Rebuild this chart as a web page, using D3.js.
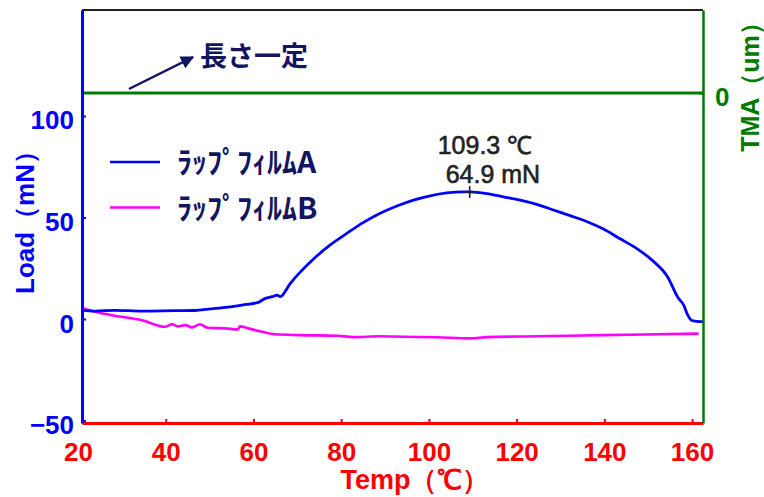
<!DOCTYPE html>
<html>
<head>
<meta charset="utf-8">
<script src="https://cdn.jsdelivr.net/npm/d3@7"></script>
<style>
  body { margin: 0; background: #fff; }
  svg { display: block; }
  .num { font-family: "Liberation Sans", Arial, sans-serif; font-weight: bold; }
  .jp { font-family: "Noto Sans CJK JP", sans-serif; font-weight: bold; }
</style>
</head>
<body>
<div id="chart"></div>
<script>
////////////////////////////////////////////////////////////////////////
//
// data
//
////////////////////////////////////////////////////////////////////////
var tempA = [20.9, 23.9, 28.4, 34.6, 42.1, 46.7, 49.7, 54.2, 57.4, 61.1, 62.7, 64.3,
             65.4, 66.1, 68.4, 70.6, 73.7, 77.5, 81.3, 85.1, 88.9, 92.7, 96.5, 100.3,
             104.1, 107.9, 109.3, 113.2, 117.0, 120.8, 124.6, 128.4, 132.2, 136.1,
             139.8, 143.7, 147.5, 151.2, 154.3, 156.9, 158.1, 159.0, 160.0, 161.9, 162.5];
var loadA = [4.4, 3.9, 4.3, 3.9, 4.1, 4.2, 4.9, 5.9, 6.9, 8.2, 10.2, 11.0,
             11.8, 11.0, 17.6, 23.0, 29.6, 36.5, 42.2, 47.6, 52.1, 55.7, 58.6, 60.7,
             62.1, 62.6, 62.6, 61.8, 60.2, 58.6, 56.5, 53.7, 50.9, 47.9,
             44.3, 39.4, 34.6, 28.4, 21.2, 10.2, 6.9, 2.0, -0.8, -1.3, -1.3];

var tempB = [20.9, 23.9, 28.4, 34.6, 39.8, 41.4, 42.8, 44.4, 46.0, 47.8, 49.6, 53.5,
             56.5, 56.9, 58.8, 62.0, 64.9, 70.6, 79.1, 82.7, 88.9, 94.1, 101.9, 109.4,
             113.3, 124.7, 139.8, 155.1, 161.5];
var loadB = [5.4, 3.6, 1.6, -0.6, -3.8, -2.6, -3.6, -3.0, -4.1, -2.6, -4.3, -4.6,
             -5.1, -3.6, -4.6, -6.3, -7.5, -7.9, -8.2, -8.9, -8.5, -8.7, -9.0, -9.5,
             -8.9, -8.5, -7.9, -7.4, -7.2];

var tempTMA = [20.9, 162.5];
var valTMA = [0, 0];

var tempTicks = [20, 40, 60, 80, 100, 120, 140, 160];
var loadTicks = [-50, 0, 50, 100];
var tmaTicks = [0];

var legendNames = ["ﾗｯﾌﾟﾌｨﾙﾑA", "ﾗｯﾌﾟﾌｨﾙﾑB"];
var peakTemp = 109.3, peakLoad = 62.6;
var peakLabels = ["109.3 ℃", "64.9 mN"];


////////////////////////////////////////////////////////////////////////
//
// build the chart
//
////////////////////////////////////////////////////////////////////////
function drawChart()
    {
    var W = 764, H = 497;
    var m = {top: 10, right: 61, bottom: 74, left: 82};
    var w = W - m.left - m.right;
    var h = H - m.top - m.bottom;

    var blue = "#0000ff", pink = "#ff00ff", green = "#007a00", red = "#ff0000", navy = "#14145f";

    var svg = d3.select("#chart").append("svg").attr("width", W).attr("height", H);
    var g = svg.append("g").attr("transform", "translate(" + m.left + "," + m.top + ")");

    var x = d3.scaleLinear().domain([20.9, 162.5]).range([0, w]);
    var y = d3.scaleLinear().domain([-51.2, 152.2]).range([h, 0]);
    var yT = d3.scaleLinear().domain([-330, 83]).range([h, 0]);

    var lineLoad = d3.line().x(function(d) {return x(d[0]);}).y(function(d) {return y(d[1]);}).curve(d3.curveMonotoneX);
    var lineTMA = d3.line().x(function(d) {return x(d[0]);}).y(function(d) {return yT(d[1]);});

    //curves
    g.append("path").datum(d3.zip(tempTMA, valTMA)).attr("d", lineTMA)
        .attr("fill", "none").attr("stroke", green).attr("stroke-width", 3);
    g.append("path").datum(d3.zip(tempB, loadB)).attr("d", lineLoad)
        .attr("fill", "none").attr("stroke", pink).attr("stroke-width", 2.6);
    g.append("path").datum(d3.zip(tempA, loadA)).attr("d", lineLoad)
        .attr("fill", "none").attr("stroke", blue).attr("stroke-width", 2.8);

    //top frame
    g.append("line").attr("x1", 0).attr("x2", w).attr("y1", 0).attr("y2", 0)
        .attr("stroke", "#222").attr("stroke-width", 2);

    //bottom axis
    var xAxis = g.append("g").attr("class", "num").attr("transform", "translate(0," + h + ")")
        .call(d3.axisBottom(x).tickValues(tempTicks).tickSizeInner(-4).tickSizeOuter(0).tickPadding(20));
    xAxis.select(".domain").attr("stroke", red).attr("stroke-width", 3);
    xAxis.selectAll(".tick line").attr("stroke", red).attr("stroke-width", 2);
    xAxis.selectAll(".tick").filter(function(d) {return d === 20;}).select("line").remove();
    xAxis.selectAll("text").attr("fill", red).attr("font-size", 26);

    //left axis
    var yAxis = g.append("g").attr("class", "num")
        .call(d3.axisLeft(y).tickValues(loadTicks).tickSizeInner(-4).tickSizeOuter(0).tickPadding(8));
    yAxis.select(".domain").attr("stroke", blue).attr("stroke-width", 3);
    yAxis.selectAll(".tick line").attr("stroke", blue).attr("stroke-width", 2);
    yAxis.selectAll("text").attr("fill", blue).attr("font-size", 26).attr("dy", "0.5em");

    //right axis
    var tAxis = g.append("g").attr("class", "num").attr("transform", "translate(" + w + ",0)")
        .call(d3.axisRight(yT).tickValues(tmaTicks).tickSizeInner(-4).tickSizeOuter(0).tickPadding(12));
    tAxis.select(".domain").attr("stroke", green).attr("stroke-width", 2.5);
    tAxis.selectAll(".tick line").attr("stroke", green).attr("stroke-width", 2);
    tAxis.selectAll("text").attr("fill", green).attr("font-size", 26).attr("dy", "0.48em");

    //axis titles
    svg.append("text").attr("class", "num").attr("transform", "translate(34,216) rotate(-90)")
        .attr("text-anchor", "middle").attr("fill", blue).attr("font-size", 26).text("Load（mN）");
    svg.append("text").attr("class", "num").attr("x", 415).attr("y", 489)
        .attr("text-anchor", "middle").attr("fill", red).attr("font-size", 27).text("Temp（℃）");
    svg.append("text").attr("class", "num").attr("transform", "translate(759,81) rotate(-90)")
        .attr("text-anchor", "middle").attr("fill", green).attr("font-size", 25).text("TMA（um）");

    //legend
    var legend = g.append("g").attr("transform", "translate(28,152)");
    [blue, pink].forEach(function(c, i)
        {
        legend.append("line").attr("x1", 0).attr("x2", 50).attr("y1", i * 45.5).attr("y2", i * 45.5)
            .attr("stroke", c).attr("stroke-width", 2.6);
        legend.append("text").attr("class", "jp").attr("x", 67).attr("y", i * 45.5 + 3)
            .attr("dominant-baseline", "middle").attr("fill", navy).attr("font-size", 30)
            .text(legendNames[i]);
        });

    //constant length note
    var defs = svg.append("defs");
    defs.append("marker").attr("id", "head").attr("viewBox", "0 0 10 10").attr("refX", 9).attr("refY", 5)
        .attr("markerWidth", 5.5).attr("markerHeight", 5.5).attr("orient", "auto")
        .append("path").attr("d", "M0,0L10,5L0,10z").attr("fill", navy);
    g.append("line").attr("x1", x(31.6)).attr("y1", y(113.3)).attr("x2", x(46.2)).attr("y2", y(129))
        .attr("stroke", navy).attr("stroke-width", 2.4).attr("marker-end", "url(#head)");
    g.append("text").attr("class", "jp").attr("x", x(47.8)).attr("y", y(128.3))
        .attr("dominant-baseline", "middle").attr("fill", navy).attr("font-size", 27).text("長さ一定");

    //peak marker
    g.append("path").attr("transform", "translate(" + x(peakTemp) + "," + y(peakLoad) + ")")
        .attr("d", "M-6,0H6M0,-6V6").attr("stroke", "#222").attr("stroke-width", 1.6);
    peakLabels.forEach(function(s, i)
        {
        g.append("text").attr("x", x(peakTemp) + (i === 0 ? -32 : -24)).attr("y", 144 + i * 29)
            .attr("fill", "#222").attr("stroke", "#222").attr("stroke-width", 0.6)
            .attr("font-family", "Liberation Sans, Arial, sans-serif").attr("font-size", 25).text(s);
        });
    }

drawChart();
</script>
</body>
</html>
